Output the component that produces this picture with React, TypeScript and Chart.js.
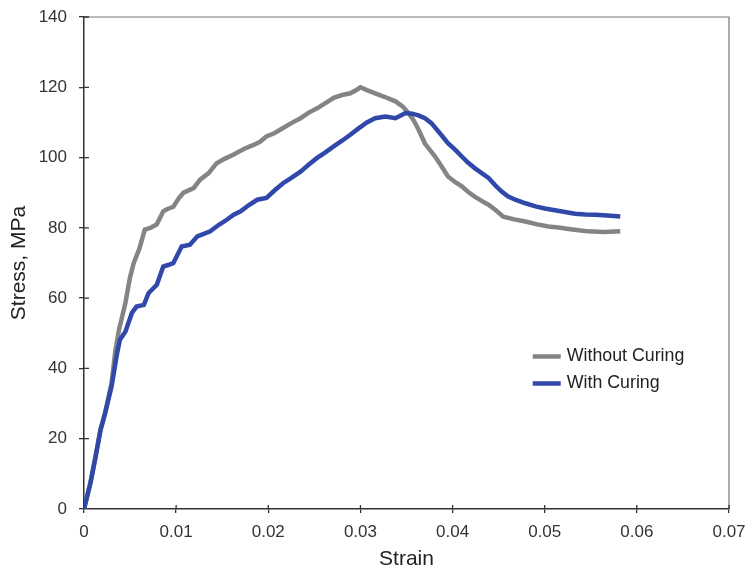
import React, { useEffect, useRef } from "react";
import { Chart, registerables } from "chart.js";

Chart.register(...registerables);

const seriesLabels = ["Without Curing", "With Curing"];
const seriesColors = ["rgb(132,132,132)", "rgb(48,72,170)"];

const strainWithout = [
  0, 0.0007, 0.0018, 0.0023, 0.003, 0.0034, 0.0038, 0.0045, 0.005, 0.0054, 0.006, 0.0066, 0.0072,
  0.0079, 0.0086, 0.009, 0.0097, 0.0103, 0.0108, 0.0119, 0.0126, 0.0135, 0.0144, 0.0153, 0.0162,
  0.0174, 0.0184, 0.0191, 0.0198, 0.0207, 0.0216, 0.0225, 0.0235, 0.0244, 0.0253, 0.0262, 0.0271,
  0.028, 0.0289, 0.0296, 0.03, 0.0307, 0.0314, 0.0326, 0.0338, 0.0346, 0.0352, 0.0358, 0.0363,
  0.037, 0.0381, 0.0388, 0.0395, 0.0403, 0.041, 0.0417, 0.0424, 0.0432, 0.0439, 0.0447, 0.0455,
  0.0467, 0.0479, 0.0492, 0.0504, 0.0515, 0.0526, 0.0537, 0.0547, 0.0565, 0.0582,
];
const stressWithout = [
  0, 7.5, 22.6, 27.5, 36, 45, 51, 58.7, 66, 70, 74, 79.5, 80, 81, 84.7, 85.3, 86, 88.5, 90, 91.3,
  93.7, 95.5, 98.4, 99.7, 100.8, 102.5, 103.6, 104.5, 106, 107, 108.4, 109.8, 111.2, 112.8, 114,
  115.5, 117, 117.8, 118.3, 119.3, 120, 119.2, 118.5, 117.3, 116, 114.5, 112.7, 110.5, 108, 104,
  100.3, 97.5, 94.6, 93, 91.8, 90.2, 88.9, 87.6, 86.6, 85, 83.2, 82.4, 81.8, 81, 80.4, 80.1, 79.7,
  79.3, 79, 78.8, 79,
];

const strainWith = [
  0, 0.0007, 0.0012, 0.0018, 0.0023, 0.003, 0.0036, 0.0039, 0.0045, 0.0052, 0.0057, 0.0065, 0.007,
  0.0079, 0.0086, 0.0092, 0.0097, 0.0106, 0.0115, 0.0123, 0.013, 0.0137, 0.0146, 0.0155, 0.0162,
  0.017, 0.0179, 0.0188, 0.0198, 0.0207, 0.0216, 0.0225, 0.0235, 0.0244, 0.0253, 0.0262, 0.0271,
  0.028, 0.0289, 0.0298, 0.0307, 0.0316, 0.0327, 0.0338, 0.0349, 0.0356, 0.0363, 0.037, 0.0377,
  0.0386, 0.0395, 0.0403, 0.041, 0.0417, 0.0424, 0.0432, 0.0439, 0.0446, 0.0453, 0.046, 0.0468,
  0.0479, 0.049, 0.05, 0.0511, 0.0522, 0.0533, 0.0544, 0.0555, 0.0568, 0.0582,
];
const stressWith = [
  0, 7.4, 14, 22.6, 27.3, 35, 44.4, 48.2, 50.5, 55.8, 57.6, 58.1, 61.4, 63.8, 69, 69.5, 70, 74.7,
  75.2, 77.6, 78.3, 79, 80.8, 82.3, 83.7, 84.7, 86.5, 88, 88.5, 90.7, 92.7, 94.2, 96, 98, 99.9,
  101.5, 103.2, 104.8, 106.5, 108.3, 110, 111.2, 111.7, 111.2, 112.7, 112.5, 112, 111.2, 109.8,
  107, 104.1, 102.2, 100.3, 98.5, 97, 95.5, 94.2, 92.2, 90.4, 89, 88, 87, 86.1, 85.5, 85, 84.5, 84,
  83.8, 83.7, 83.5, 83.2,
];

const xTickValues = [0, 0.01, 0.02, 0.03, 0.04, 0.05, 0.06, 0.07];
const yTickValues = [0, 20, 40, 60, 80, 100, 120, 140];

const FONT = "'Liberation Sans', Arial, Helvetica, sans-serif";

const toPoints = (xs: number[], ys: number[]) => xs.map((x, i) => ({ x, y: ys[i] }));

const zeroPadding = (s: any) => {
  s.paddingTop = 0;
  s.paddingBottom = 0;
  s.paddingLeft = 0;
  s.paddingRight = 0;
};

const framePlugin = {
  id: "frame",
  afterDatasetsDraw(chart: any) {
    const { ctx, chartArea, scales } = chart;
    const { left, right, top, bottom } = chartArea;
    ctx.save();
    ctx.strokeStyle = "#777";
    ctx.lineWidth = 1.2;
    ctx.beginPath();
    ctx.moveTo(left, top);
    ctx.lineTo(right, top);
    ctx.lineTo(right, bottom);
    ctx.stroke();
    ctx.strokeStyle = "#333";
    ctx.lineWidth = 1.3;
    ctx.beginPath();
    xTickValues.forEach((v) => {
      if (v === 0) return;
      const px = scales.x.getPixelForValue(v);
      ctx.moveTo(px, bottom);
      ctx.lineTo(px, bottom - 4);
    });
    yTickValues.forEach((v) => {
      if (v === 0) return;
      const py = scales.y.getPixelForValue(v);
      ctx.moveTo(left, py);
      ctx.lineTo(left + 5, py);
    });
    ctx.stroke();
    // legend
    const lx = scales.x.getPixelForValue(0.0487);
    const ly0 = scales.y.getPixelForValue(43.4);
    const gap = 27;
    chart.data.datasets.forEach((ds: any, i: number) => {
      const y = ly0 + i * gap;
      ctx.strokeStyle = ds.borderColor;
      ctx.lineWidth = 4.5;
      ctx.beginPath();
      ctx.moveTo(lx, y);
      ctx.lineTo(lx + 28, y);
      ctx.stroke();
      ctx.fillStyle = "#222";
      ctx.font = `17.8px ${FONT}`;
      ctx.textBaseline = "middle";
      ctx.textAlign = "left";
      ctx.fillText(ds.label, lx + 34, y);
    });
    ctx.restore();
  },
};

export default function App() {
  const ref = useRef<HTMLCanvasElement | null>(null);
  useEffect(() => {
    if (!ref.current) return;
    const chart = new Chart(ref.current, {
      type: "line",
      data: {
        datasets: [
          {
            label: seriesLabels[0],
            data: toPoints(strainWithout, stressWithout),
            borderColor: seriesColors[0],
            backgroundColor: seriesColors[0],
            borderWidth: 4.5,
            pointRadius: 0,
            tension: 0,
            order: 1,
          },
          {
            label: seriesLabels[1],
            data: toPoints(strainWith, stressWith),
            borderColor: seriesColors[1],
            backgroundColor: seriesColors[1],
            borderWidth: 4.5,
            pointRadius: 0,
            tension: 0,
            order: 0,
          },
        ],
      },
      options: {
        animation: false,
        responsive: false,
        maintainAspectRatio: false,
        layout: { padding: { left: 0, right: 21, top: 17, bottom: 0 } },
        plugins: { legend: { display: false }, tooltip: { enabled: false } },
        scales: {
          x: {
            type: "linear",
            min: 0,
            max: 0.07,
            afterFit: (s: any) => {
              s.height = 63;
              zeroPadding(s);
            },
            afterBuildTicks: (s: any) => {
              s.ticks = xTickValues.map((v) => ({ value: v }));
            },
            ticks: {
              color: "#333",
              font: { family: FONT, size: 17 },
              padding: 9,
              maxRotation: 0,
              callback: (v: any) => (Number(v) === 0 ? "0" : Number(v).toFixed(2)),
            },
            grid: { drawOnChartArea: false, tickLength: 4, color: "#333", lineWidth: 1.3 },
            border: { color: "#333", width: 1.5 },
            title: {
              display: true,
              text: "Strain",
              color: "#222",
              font: { family: FONT, size: 21 },
              padding: { top: 0, bottom: 0 },
            },
          },
          y: {
            type: "linear",
            min: 0,
            max: 140,
            afterFit: (s: any) => {
              s.width = 84;
              zeroPadding(s);
            },
            afterBuildTicks: (s: any) => {
              s.ticks = yTickValues.map((v) => ({ value: v }));
            },
            ticks: {
              color: "#333",
              font: { family: FONT, size: 17 },
              padding: 12,
            },
            grid: { drawOnChartArea: false, tickLength: 5, color: "#333", lineWidth: 1.3 },
            border: { color: "#333", width: 1.5 },
            title: {
              display: true,
              text: "Stress, MPa",
              color: "#222",
              font: { family: FONT, size: 21 },
              padding: { top: 7, bottom: 0 },
            },
          },
        },
      },
      plugins: [framePlugin],
    });
    return () => chart.destroy();
  }, []);
  return (
    <div style={{ position: "fixed", left: 0, top: 0, width: 750, height: 572, background: "#fff" }}>
      <canvas ref={ref} width={750} height={572} style={{ width: 750, height: 572 }} />
    </div>
  );
}
